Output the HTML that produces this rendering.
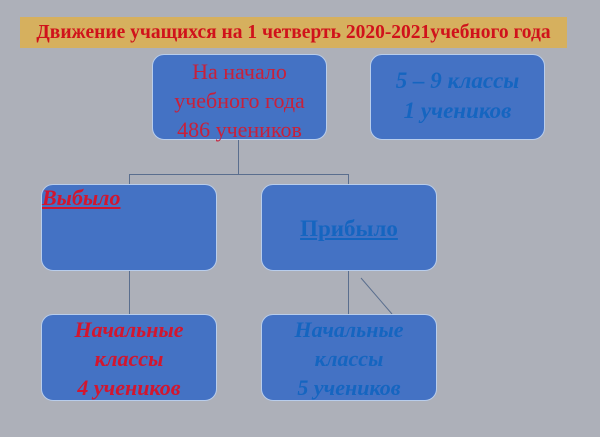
<!DOCTYPE html>
<html><head><meta charset="utf-8"><style>
body{margin:0;width:600px;height:437px;background:#adb0b9;position:relative;overflow:hidden;font-family:"Liberation Serif","Noto Serif CJK SC",serif;}
.t{position:absolute;left:20px;top:17px;width:547px;height:31px;background:#d6b05e;color:#d0121b;font-weight:bold;font-size:19.5px;line-height:31px;text-align:center;white-space:nowrap;}
.b{position:absolute;width:172px;height:84px;background:#4472c4;border:1.5px solid #b8cdec;border-radius:12px;box-sizing:border-box;text-align:center;white-space:nowrap;}
.l{position:absolute;background:#5a6e8e;}
.r{color:#d2162f;font-weight:bold;font-style:italic;}
.bl{color:#1565c0;}
</style></head><body>
<div class="t">Движение учащихся на 1 четверть 2020-2021учебного года</div>
<div class="b" style="left:152px;top:54px;width:175px;height:86px;color:#c8203a;font-size:22px;line-height:29px;padding-top:2px">На начало<br>учебного года<br>486 учеников</div>
<div class="b bl" style="left:370px;top:54px;width:175px;height:86px;font-size:23px;line-height:30px;padding-top:11px;font-weight:bold;font-style:italic">5 – 9 классы<br>1 учеников</div>
<div class="l" style="left:238px;top:140px;width:1px;height:34px"></div>
<div class="l" style="left:129px;top:174px;width:220px;height:1px"></div>
<div class="l" style="left:129px;top:174px;width:1px;height:10px"></div>
<div class="l" style="left:348px;top:174px;width:1px;height:10px"></div>
<div class="b" style="left:41px;top:184px;width:176px;height:87px;text-align:left"><span class="r" style="position:absolute;left:0;top:0px;font-size:22px;text-decoration:underline">Выбыло</span></div>
<div class="b" style="left:261px;top:184px;width:176px;height:87px;font-size:23px;line-height:87px;font-weight:bold;"><span class="bl" style="text-decoration:underline">Прибыло</span></div>
<div class="l" style="left:129px;top:271px;width:1px;height:43px"></div>
<div class="l" style="left:348px;top:271px;width:1px;height:43px"></div>
<svg style="position:absolute;left:0;top:0" width="600" height="437"><line x1="361" y1="278" x2="392" y2="314" stroke="#5a6e8e" stroke-width="1"/></svg>
<div class="b r" style="left:41px;top:314px;width:176px;height:87px;font-size:22px;line-height:29px;padding-top:0px">Начальные<br>классы<br>4 учеников</div>
<div class="b bl" style="left:261px;top:314px;width:176px;height:87px;font-size:22px;line-height:29px;padding-top:0px;font-style:italic;font-weight:bold">Начальные<br>классы<br>5 учеников</div>
</body></html>
